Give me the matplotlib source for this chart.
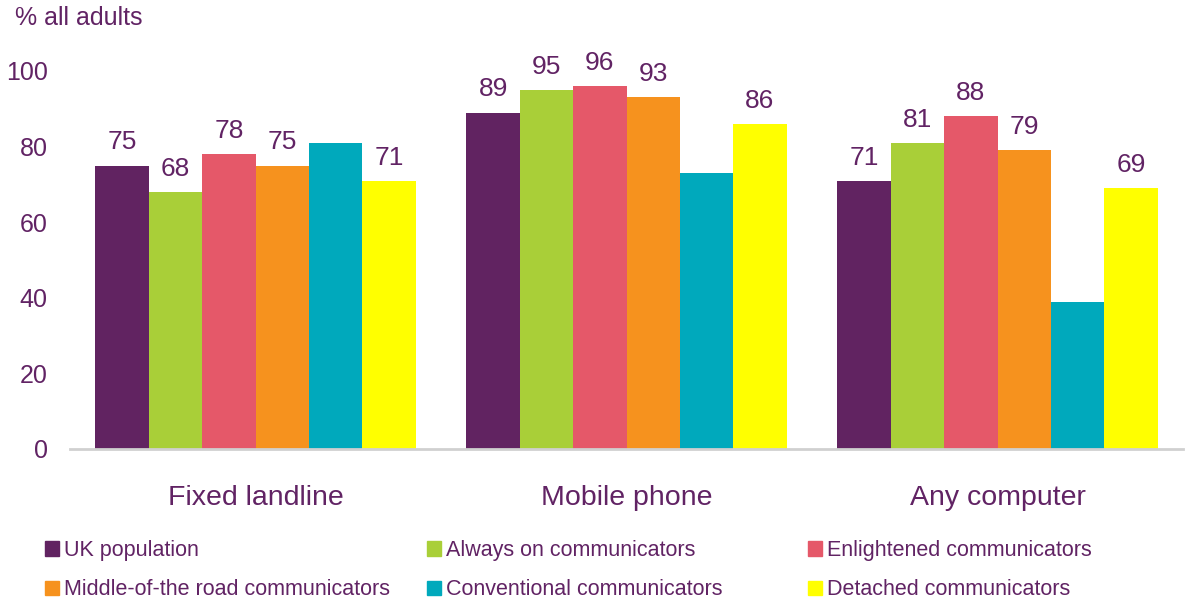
import matplotlib.pyplot as plt
import matplotlib.patches as patches
import numpy as np

plt.rcParams['font.family'] = ['Liberation Sans', 'DejaVu Sans']

categories = ['Fixed landline', 'Mobile phone', 'Any computer']
series = ['UK population', 'Always on communicators', 'Enlightened communicators',
          'Middle-of-the road communicators', 'Conventional communicators',
          'Detached communicators']
values = [
    [75, 89, 71],
    [68, 95, 81],
    [78, 96, 88],
    [75, 93, 79],
    [81, 73, 39],
    [71, 86, 69],
]
# the conventional group carries no value labels
show_labels = [True, True, True, True, False, True]
colors = ['#612361', '#A9CF38', '#E55869', '#F6921E', '#00A9BC', '#FFFF00']
yticks = [0, 20, 40, 60, 80, 100]

text_col = '#612364'

fig = plt.figure(figsize=(11.85, 5.99), dpi=100)
ax = fig.add_axes([70 / 1185, 150 / 599, 1113 / 1185, 378 / 599])

x = np.arange(len(categories))
n = len(series)
width = 0.863 / n
for i in range(n):
    pos = x + (i - (n - 1) / 2) * width
    bars = ax.bar(pos, values[i], width, color=colors[i], label=series[i])
    if show_labels[i]:
        for b, v in zip(bars, values[i]):
            ax.annotate(str(v), (b.get_x() + b.get_width() / 2, v),
                        xytext=(0, 8), textcoords='offset points',
                        ha='center', va='bottom', fontsize=19,
                        color=text_col, annotation_clip=False)

ax.set_xlim(-0.5, 2.5)
ax.set_ylim(0, 100)
ax.set_yticks(yticks)
ax.set_xticks(x)
ax.set_xticklabels(categories)
ax.tick_params(axis='y', length=0, pad=16, labelsize=18, labelcolor=text_col)
ax.tick_params(axis='x', length=0, pad=26, labelsize=20.5, labelcolor=text_col)
for s in ['top', 'right', 'left']:
    ax.spines[s].set_visible(False)
ax.spines['bottom'].set_color('#D0D0D0')
ax.spines['bottom'].set_linewidth(2)

fig.text(15 / 1185, 1 - 18 / 599, '% all adults', fontsize=18,
         color=text_col, va='center', ha='left')

# legend: three columns of two rows, read across
col_x = [45, 427, 808]
handles = [patches.Patch(color=c) for c in colors]
for k in range(3):
    idx = [k, k + 3]
    leg = fig.legend([handles[j] for j in idx], [series[j] for j in idx],
                     loc='upper left', bbox_to_anchor=(col_x[k] / 1185, 1 - 540 / 599),
                     frameon=False, fontsize=15.5, handlelength=0.65,
                     handleheight=0.65, handletextpad=0.25, labelspacing=0.85,
                     borderaxespad=0, borderpad=0)
    for t in leg.get_texts():
        t.set_color(text_col)

fig.savefig('out.png', dpi=100)
